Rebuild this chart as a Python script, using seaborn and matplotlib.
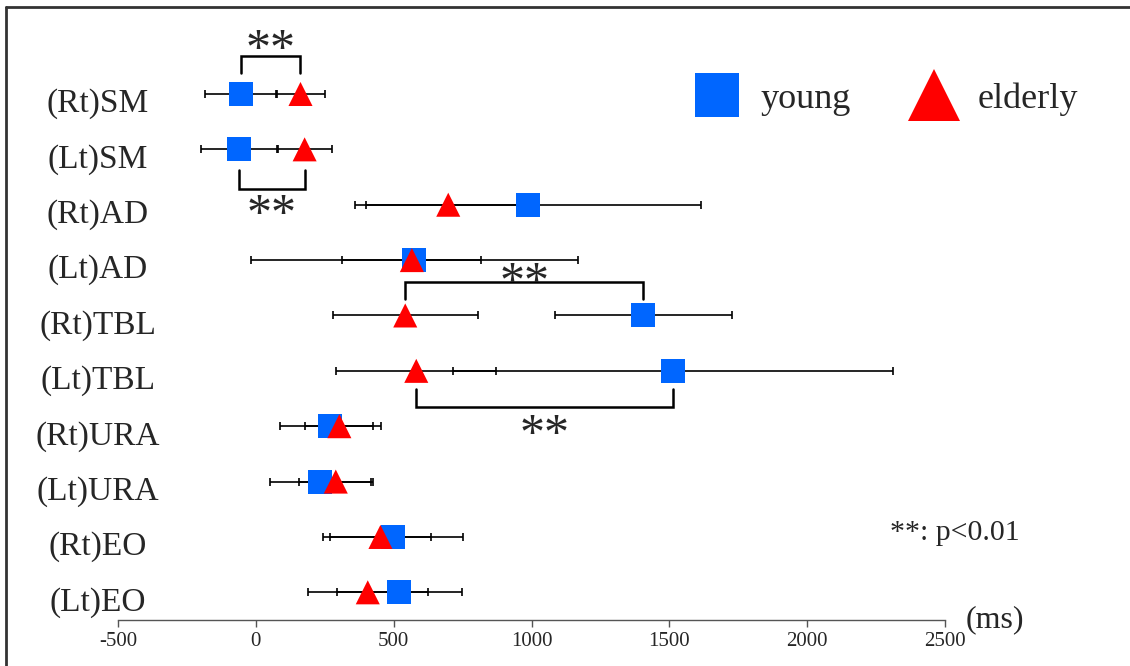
import matplotlib
matplotlib.use("Agg")
import numpy as np
import pandas as pd
import seaborn as sns
import matplotlib.pyplot as plt
import matplotlib.transforms as mtransforms
from matplotlib.lines import Line2D

# ====== Data (ms, mean +/- SD) ======
MUSCLES = ["(Rt)SM", "(Lt)SM", "(Rt)AD", "(Lt)AD", "(Rt)TBL",
           "(Lt)TBL", "(Rt)URA", "(Lt)URA", "(Rt)EO", "(Lt)EO"]
YOUNG_MEAN = [-55, -61, 987, 575, 1406, 1513, 270, 233, 499, 521]
YOUNG_SD = [130, 138, 629, 594, 320, 799, 183, 183, 254, 226]
ELDERLY_MEAN = [162, 177, 698, 566, 542, 582, 303, 290, 452, 406]
ELDERLY_SD = [88, 98, 298, 252, 263, 290, 123, 135, 184, 218]
GROUPS = ["young", "elderly"]
# significant pairs: row index and bracket side
SIG_ROWS = [0, 1, 4, 5]
SIG_SIDE = ["above", "below", "above", "below"]
SIG_LABEL = "**"
P_NOTE = "**: p<0.01"
UNIT = "(ms)"

BLUE = "#0066FF"
RED = "#FF0000"

sns.set_style("white")
plt.rcParams["font.family"] = ["Liberation Serif", "DejaVu Serif"]
plt.rcParams["axes.unicode_minus"] = False

W, H = 1130, 666
fig = plt.figure(figsize=(W / 100, H / 100), dpi=100)
ax = fig.add_axes([118 / W, 1 - 620 / H, (945 - 118) / W, (620 - 22) / H])

pos = np.arange(len(MUSCLES))
df = pd.DataFrame({
    "pos": np.concatenate([pos, pos]),
    "latency": YOUNG_MEAN + ELDERLY_MEAN,
    "group": ["young"] * len(MUSCLES) + ["elderly"] * len(MUSCLES),
})

# error bars under the markers
for means, sds in [(YOUNG_MEAN, YOUNG_SD), (ELDERLY_MEAN, ELDERLY_SD)]:
    ax.errorbar(means, pos, xerr=sds, fmt="none", ecolor="black",
                elinewidth=1.2, capsize=3, capthick=1.2, zorder=1)

sns.scatterplot(data=df, x="latency", y="pos", hue="group", style="group",
                markers={"young": "s", "elderly": "^"},
                palette={"young": BLUE, "elderly": RED},
                s=300, linewidth=0, legend=False, ax=ax, zorder=3)

ax.set_xlim(-500, 2500)
ax.set_ylim(9.5, -1.3)
ax.set_xlabel("")
ax.set_ylabel("")
ax.set_xticks(range(-500, 2501, 500))
ax.tick_params(axis="x", length=5, width=1, color="#555555",
               labelsize=15, pad=4, bottom=True)
ax.set_yticks([])
sns.despine(ax=ax, left=True, top=True, right=True)
ax.spines["bottom"].set_color("#555555")
ax.spines["bottom"].set_linewidth(1.0)

# row labels, centred in the left margin
lab_tr = mtransforms.blended_transform_factory(fig.transFigure, ax.transData)
lab_tr = lab_tr + mtransforms.ScaledTranslation(0, -10 / 100, fig.dpi_scale_trans)
for i, m in enumerate(MUSCLES):
    ax.text(98 / W, i, m, transform=lab_tr, ha="center", va="center",
            fontsize=24, clip_on=False)

# significance brackets (offsets in rows: leg tip, bar, stars)
tip_off = [0.38, 0.38, 0.29, 0.33]
bar_off = [0.68, 0.72, 0.60, 0.66]
star_off = [0.98, 1.0, 0.78, 0.97]
star_tr = ax.transData + mtransforms.ScaledTranslation(0, -11 / 100, fig.dpi_scale_trans)
for k, (row, side) in enumerate(zip(SIG_ROWS, SIG_SIDE)):
    x1, x2 = YOUNG_MEAN[row], ELDERLY_MEAN[row]
    sgn = -1 if side == "above" else 1
    tip = row + sgn * tip_off[k]
    bar = row + sgn * bar_off[k]
    ax.plot([x1, x1, x2, x2], [tip, bar, bar, tip], color="black",
            lw=1.8, solid_joinstyle="miter", zorder=2, clip_on=False)
    ax.text((x1 + x2) / 2, row + sgn * star_off[k], SIG_LABEL, ha="center",
            va="center", fontsize=36, transform=star_tr, clip_on=False)

# legend
handles = [
    Line2D([], [], marker="s", color=BLUE, linestyle="none",
           markersize=32, markeredgewidth=0),
    Line2D([], [], marker="^", color=RED, linestyle="none",
           markersize=37, markeredgewidth=0),
]
fig.legend(handles, GROUPS, loc="center left",
           bbox_to_anchor=(690 / W, 1 - 99 / H), ncol=2, frameon=False,
           handlelength=1.5, handletextpad=0.45, columnspacing=1.55,
           borderpad=0, borderaxespad=0, fontsize=26)

fig.text(890 / W, 1 - 540 / H, P_NOTE, ha="left", va="baseline", fontsize=21.5)
fig.text(995 / W, 1 - 620 / H, UNIT, ha="center", va="center", fontsize=23)

# outer frame: left and top edges only
frame_kw = dict(color="#333333", lw=2.0, transform=fig.transFigure)
fig.add_artist(Line2D([6 / W, 6 / W], [0, 1 - 7 / H], **frame_kw))
fig.add_artist(Line2D([6 / W, 1], [1 - 7 / H, 1 - 7 / H], **frame_kw))

fig.savefig("out.png", dpi=100)
